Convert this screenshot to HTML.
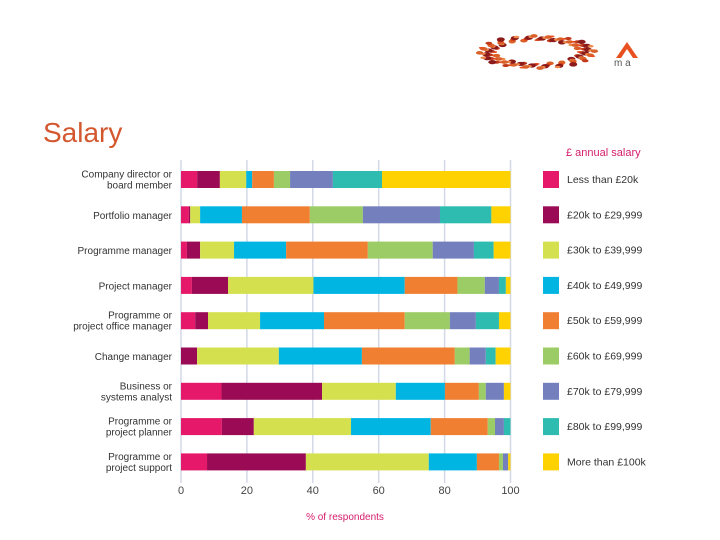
<!DOCTYPE html>
<html><head><meta charset="utf-8"><style>
body{margin:0;width:720px;height:540px;background:#fff;overflow:hidden;font-family:"Liberation Sans",sans-serif}
svg{position:absolute;left:0;top:0}
</style></head><body>
<svg id="c" width="720" height="540">
<text x="43" y="142" font-size="28" fill="#d3572f">Salary</text>
<g id="logo">
<path d="M616 58 L627 42 L638 58 Z" fill="#e8501f"/>
<path d="M621 58 L627 49 L633 58 Z" fill="#fff"/>
<text x="614" y="66" font-size="10" fill="#555">m a</text>
</g>
<text x="566" y="156" font-size="11" fill="#d41d6c">£ annual salary</text>
<text x="345" y="520" font-size="10" fill="#d41d6c" text-anchor="middle">% of respondents</text>
</svg>
<script>
const categories=[["Company director or","board member"],["Portfolio manager"],["Programme manager"],["Project manager"],["Programme or","project office manager"],["Change manager"],["Business or","systems analyst"],["Programme or","project planner"],["Programme or","project support"]];
const seriesNames=["Less than £20k","£20k to £29,999","£30k to £39,999","£40k to £49,999","£50k to £59,999","£60k to £69,999","£70k to £79,999","£80k to £99,999","More than £100k"];
const colors=["#e5186a","#9b0a54","#d4e04e","#00b5e2","#f07f32","#9ccc65","#7480be","#2fbcb0","#fed200"];
const s0=[4.9,2.4,1.8,3.3,4.3,0,12.3,12.4,7.9];
const s1=[6.9,0.4,4.0,11.0,3.9,4.9,30.5,9.7,30.0];
const s2=[8.0,3.0,10.3,25.9,15.8,24.8,22.4,29.5,37.3];
const s3=[1.8,12.7,15.8,27.7,19.4,25.2,14.9,24.2,14.6];
const s4=[6.6,20.6,24.8,16.0,24.5,28.2,10.3,17.3,6.7];
const s5=[4.9,16.1,19.7,8.3,13.7,4.5,2.1,2.2,1.2];
const s6=[13.0,23.4,12.5,4.3,7.9,4.9,5.5,2.7,1.6];
const s7=[14.9,15.6,6.0,2.1,7.0,3.0,0,2.0,0];
const s8=[39.0,5.8,5.1,1.4,3.5,4.5,2.0,0,0.7];
const series=[s0,s1,s2,s3,s4,s5,s6,s7,s8];
const xTicks=[0,20,40,60,80,100];
const NS="http://www.w3.org/2000/svg";
const svg=document.getElementById('c');
const X0=181,X1=510.5,Y0=171,STEP=35.3,BH=17;
const xs=v=>X0+(X1-X0)*v/100;
const ys=i=>Y0+STEP*i;
function mk(t,a){const e=document.createElementNS(NS,t);for(const k in a)e.setAttribute(k,a[k]);svg.appendChild(e);return e;}
const lg=document.getElementById('logo');
const dc=["#e8501f","#c0391b","#8b1a1a","#f08a4b","#d9622b"];
for(let i=0;i<120;i++){const a=i*3*Math.PI/180;const r=1.2+((i*7)%5)*0.35;const rr=0.85+((i*13)%6)*0.06;
const d=document.createElementNS(NS,'ellipse');d.setAttribute('cx',537+50*rr*Math.cos(a));d.setAttribute('cy',52+14*rr*Math.sin(a));d.setAttribute('rx',r+1.4);d.setAttribute('ry',r*0.8);d.setAttribute('fill',dc[i%5]);lg.appendChild(d);}
xTicks.forEach(t=>{
const g=mk('line',{x1:xs(t),x2:xs(t),y1:160,y2:483,stroke:'#d3d8e6','stroke-width':1.5});


const l=mk('text',{x:xs(t),y:494,'font-size':11,fill:'#444','text-anchor':'middle'});l.textContent=t;


});
categories.forEach((c,i)=>{
const cy=ys(i)+BH/2;
const tx=mk('text',{x:172,y:c.length>1?cy-2:cy+4,'font-size':10,fill:'#333','text-anchor':'end'});


c.forEach((ln,k)=>{const ts=document.createElementNS(NS,'tspan');ts.setAttribute('x',172);if(k>0)ts.setAttribute('dy',11);ts.textContent=ln;tx.appendChild(ts);});
let acc=0;
series.forEach((s,j)=>{const v=s[i];if(v>0){const r=mk('rect',{x:xs(acc),y:ys(i),width:xs(acc+v)-xs(acc),height:BH,fill:colors[j]});

}acc+=v;});
});
seriesNames.forEach((n,j)=>{
const r=mk('rect',{x:543,y:ys(j),width:16,height:17,fill:colors[j]});


const t=mk('text',{x:567,y:ys(j)+12,'font-size':10.5,fill:'#333'});t.textContent=n;


});
</script>
</body></html>
